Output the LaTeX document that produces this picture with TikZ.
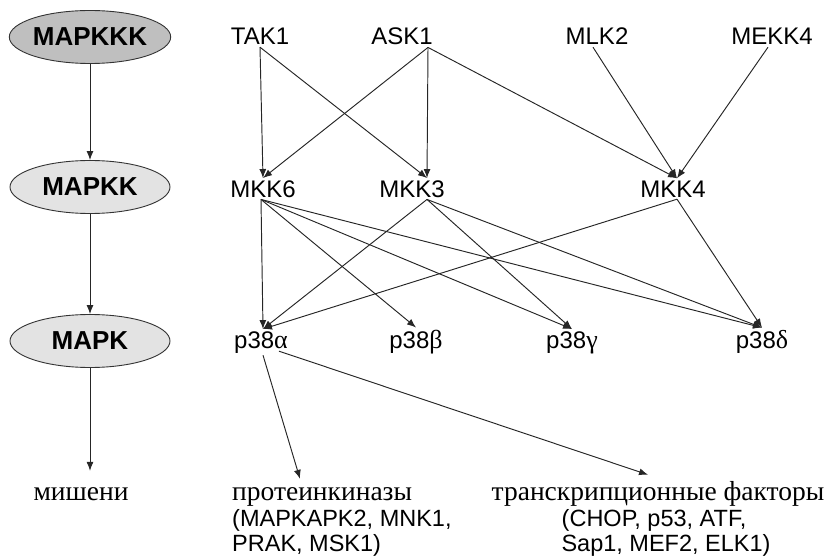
\documentclass[tikz,border=0pt]{standalone}
\usepackage{fontspec}
\setmainfont{Liberation Serif}
\newfontfamily\sansf{Liberation Sans}
\usetikzlibrary{shapes.geometric,arrows.meta,calc}
\tikzset{
  lvl/.style={ellipse,draw=black!80,line width=0.9pt,minimum width=160pt,minimum height=53pt,inner sep=0pt,
    font=\sansf\bfseries\fontsize{26}{28}\selectfont},
  lab/.style={inner sep=2pt,anchor=base,font=\sansf\fontsize{24}{26}\selectfont},
  rus/.style={inner sep=2pt,anchor=base,font=\rmfamily\fontsize{27.5}{29}\selectfont},
  small/.style={inner sep=2pt,anchor=base,font=\sansf\fontsize{23.5}{26}\selectfont},
  arr/.style={draw=black!85,line width=0.95pt,-{Latex[length=9pt,width=7pt]}}
}
\newcommand{\gr}[1]{{\rmfamily\fontsize{26}{28}\selectfont #1}}
\begin{document}
\begin{tikzpicture}[x=1pt,y=-1pt]
\useasboundingbox (0,0) rectangle (835,556);
% left column
\node[lvl,fill=black!25] (kkk) at (90,37) {MAPKKK};
\node[lvl,fill=black!11] (kk) at (90,187) {MAPKK};
\node[lvl,fill=black!11] (k) at (90,341) {MAPK};
\node[rus] (targ) at (81,500) {мишени};
\draw[arr] (kkk.south) -- (kk.north);
\draw[arr] (kk.south) -- (k.north);
\draw[arr] (k.south) -- ([yshift=14pt]k.south |- targ.north);
% MAPKKK row
\node[lab] (tak) at (260,45) {TAK1};
\node[lab] (ask) at (402,45) {ASK1};
\node[lab] (mlk) at (597,45) {MLK2};
\node[lab] (mekk) at (772,45) {MEKK4};
% MAPKK row
\node[lab] (m6) at (263,197) {MKK6};
\node[lab] (m3) at (412,197) {MKK3};
\node[lab] (m4) at (673,197) {MKK4};
% MAPK row
\node[lab] (pa) at (261,348) {p38\gr{α}};
\node[lab] (pb) at (416,348) {p38\gr{β}};
\node[lab] (pg) at (572,348) {p38\gr{γ}};
\node[lab] (pd) at (762,348) {p38\gr{δ}};
% targets
\node[rus,anchor=base west] (prot1) at (230,500) {протеинкиназы};
\node[small,anchor=base west] (prot2) at (230,526) {(MAPKAPK2, MNK1,};
\node[small,anchor=base west] (prot3) at (230,551) {PRAK, MSK1)};
\node[rus] (tf1) at (658,500) {транскрипционные факторы};
\node[small] (tf2) at (654,526) {(CHOP, p53, ATF,};
\node[small] (tf3) at (666,551) {Sap1, MEF2, ELK1)};
% MAPKKK -> MAPKK
\draw[arr] (tak.south) -- (m6.north);
\draw[arr] (tak.south) -- ([xshift=15pt]m3.north);
\draw[arr] ([xshift=26pt]ask.south) -- (m6.north);
\draw[arr] ([xshift=26pt]ask.south) -- ([xshift=15pt]m3.north);
\draw[arr] ([xshift=26pt]ask.south) -- ([xshift=4pt]m4.north);
\draw[arr] ([xshift=-4pt]mlk.south) -- ([xshift=4pt]m4.north);
\draw[arr] ([xshift=-4pt]mekk.south) -- ([xshift=4pt]m4.north);
% MAPKK -> MAPK
\draw[arr] ([xshift=-2pt]m6.south) -- ([xshift=2pt]pa.north);
\draw[arr] ([xshift=-2pt]m6.south) -- (pb.north);
\draw[arr] ([xshift=-2pt]m6.south) -- (pg.north);
\draw[arr] ([xshift=-2pt]m6.south) -- (pd.north);
\draw[arr] ([xshift=15pt]m3.south) -- ([xshift=2pt]pa.north);
\draw[arr] ([xshift=15pt]m3.south) -- (pg.north);
\draw[arr] ([xshift=15pt]m3.south) -- (pd.north);
\draw[arr] ([xshift=4pt]m4.south) -- ([xshift=2pt]pa.north);
\draw[arr] ([xshift=4pt]m4.south) -- (pd.north);
% MAPK -> targets
\draw[arr] ([xshift=2pt]pa.south) -- ([xshift=70pt,yshift=6pt]prot1.north west);
\draw[arr] ([xshift=18pt,yshift=4pt]pa.south) -- ([xshift=-10pt,yshift=4pt]tf1.north);
\end{tikzpicture}
\end{document}
